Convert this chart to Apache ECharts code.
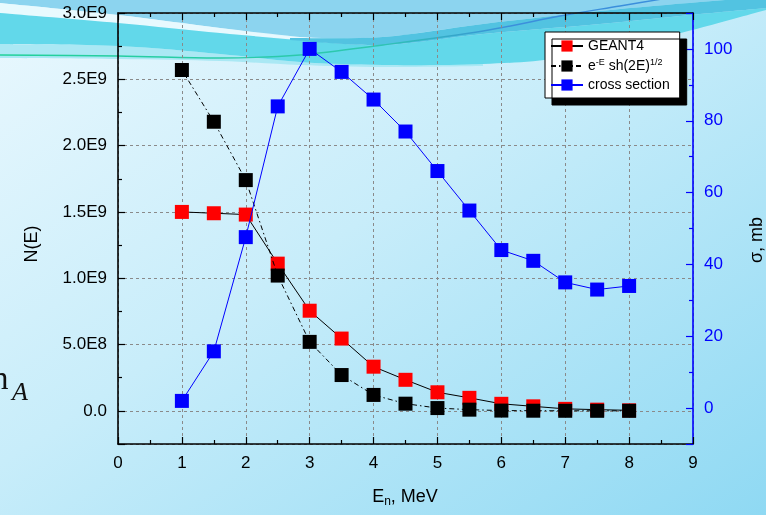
<!DOCTYPE html>
<html>
<head>
<meta charset="utf-8">
<script src="https://cdn.jsdelivr.net/npm/echarts@6/dist/echarts.min.js"></script>
<style>
  html, body { margin: 0; padding: 0; }
  #wrap { position: relative; width: 766px; height: 515px; overflow: hidden; }
  #bg { position: absolute; left: 0; top: 0; }
  #chart { position: absolute; left: 0; top: 0; width: 766px; height: 515px; }
</style>
</head>
<body>
<div id="wrap">
  <svg id="bg" width="766" height="515" viewBox="0 0 766 515">
    <defs>
      <linearGradient id="base" x1="0" y1="0" x2="1" y2="1">
        <stop offset="0" stop-color="#eaf8fe"/>
        <stop offset="0.45" stop-color="#c8edfa"/>
        <stop offset="1" stop-color="#8fd9f3"/>
      </linearGradient>
      <linearGradient id="glow" x1="0" y1="0" x2="1" y2="0">
        <stop offset="0" stop-color="#21d29a"/>
        <stop offset="0.55" stop-color="#2ec7b0"/>
        <stop offset="0.75" stop-color="#3b8fdc"/>
        <stop offset="1" stop-color="#3b8fdc"/>
      </linearGradient>
    </defs>
    <rect x="0" y="0" width="766" height="515" fill="url(#base)"/>
    <path id="sky" fill="#8cd4ef"/>
    <path id="streak" fill="#e8f9fe" opacity="0.9"/>
    <path id="fringe" fill="#aae8f4"/>
    <path id="cyan" fill="#62d8ea"/>
    <path id="ribbon" fill="#52c3e1"/>
    <path id="glowline" fill="none" stroke="url(#glow)" stroke-width="1.4"/>
  </svg>
  <div id="chart"></div>
</div>
<script>
// Neutron energy grid, MeV
const energies = [1, 1.5, 2, 2.5, 3, 3.5, 4, 4.5, 5, 5.5, 6, 6.5, 7, 7.5, 8];
// N(E) from the GEANT4 simulation
const geant4 = [1.50e9, 1.49e9, 1.48e9, 1.11e9, 0.755e9, 0.545e9, 0.333e9, 0.234e9, 0.14e9, 0.098e9, 0.053e9, 0.034e9, 0.015e9, 0.009e9, 0.004e9];
// N(E) from the e^-E sh(2E)^1/2 spectrum
const spectrum = [2.57e9, 2.18e9, 1.74e9, 1.02e9, 0.52e9, 0.27e9, 0.12e9, 0.054e9, 0.021e9, 0.009e9, 0.002e9, 0.001e9, 0.0005e9, 0.0003e9, 0.0002e9];
// Cross section, mb
const crossSection = [2, 15.8, 47.6, 84, 100, 93.6, 85.9, 77, 66, 55, 44, 41, 35, 33, 34];

const xTicks = [0, 1, 2, 3, 4, 5, 6, 7, 8, 9];
const seriesNames = ['GEANT4', 'e^-E sh(2E)^1/2', 'cross section'];

const FONT = '"Liberation Sans", Arial, sans-serif';

// ---- decorative header swoosh (page backdrop) ----
function smooth(pts, move) {
  // Catmull-Rom through pts, emitted as cubic Bezier segments
  let d = (move ? 'M' : 'L') + pts[0][0] + ',' + pts[0][1];
  for (let i = 0; i < pts.length - 1; i++) {
    const p0 = pts[Math.max(i - 1, 0)], p1 = pts[i], p2 = pts[i + 1], p3 = pts[Math.min(i + 2, pts.length - 1)];
    const c1 = [p1[0] + (p2[0] - p0[0]) / 6, p1[1] + (p2[1] - p0[1]) / 6];
    const c2 = [p2[0] - (p3[0] - p1[0]) / 6, p2[1] - (p3[1] - p1[1]) / 6];
    d += ' C' + c1.join(',') + ' ' + c2.join(',') + ' ' + p2.join(',');
  }
  return d;
}
const rev = a => a.slice().reverse();
const skyEdge = [[0, 3], [118, 15], [220, 28], [300, 37], [383, 37], [483, 24], [600, 11], [700, 2], [766, -3]];
const bandTop = [[0, 13], [118, 23], [220, 33], [300, 40], [383, 45], [483, 34], [600, 24], [700, 14], [766, 8]];
const bandBottom = [[0, 44], [118, 46], [220, 54], [300, 62], [383, 65], [483, 64], [560, 58], [650, 40], [700, 28], [766, 10]];
const fringeBottom = [[0, 58], [118, 59], [220, 61], [300, 65], [383, 67], [483, 66]];
const ribbonTop = [[290, 38], [383, 37], [483, 24], [600, 11], [700, 2], [766, -3]];
const ribbonBottom = [[290, 40], [383, 45], [483, 34], [600, 24], [700, 14], [766, 8]];
const glowPts = [[0, 55], [118, 56], [220, 58], [300, 55], [383, 45], [483, 31], [560, 16], [620, 6], [680, -4]];

document.getElementById('sky').setAttribute('d', 'M0,-5 L766,-5 L766,-3 ' + smooth(rev(skyEdge), false) + ' Z');
document.getElementById('streak').setAttribute('d', smooth(skyEdge.slice(0, 4), true) + ' L340,40 ' + smooth(rev(bandTop.slice(0, 4)), false) + ' Z');
document.getElementById('fringe').setAttribute('d', smooth(bandBottom.slice(0, 6), true) + ' ' + smooth(rev(fringeBottom), false) + ' Z');
document.getElementById('cyan').setAttribute('d', smooth(bandTop, true) + ' ' + smooth(rev(bandBottom), false) + ' Z');
document.getElementById('ribbon').setAttribute('d', smooth(ribbonTop, true) + ' ' + smooth(rev(ribbonBottom), false) + ' Z');
document.getElementById('glowline').setAttribute('d', smooth(glowPts, true));

// ---- chart ----
function sci(v) {
  if (v === 0) return '0.0';
  const e = Math.floor(Math.log10(Math.abs(v)) + 1e-9);
  const m = v / Math.pow(10, e);
  return m.toFixed(1) + 'E' + e;
}

const pairs = arr => energies.map((x, i) => [x, arr[i]]);

const chart = echarts.init(document.getElementById('chart'), null, { renderer: 'canvas' });

const inTick = (len, color) => ({ show: true, inside: true, length: len, lineStyle: { color: color, width: 1.2 } });
const inMinor = (color) => ({ show: true, splitNumber: 2, length: 4, lineStyle: { color: color, width: 1.2 } });

chart.setOption({
  backgroundColor: 'transparent',
  animation: false,
  textStyle: { fontFamily: FONT },
  grid: { left: 118, right: 73, top: 13, bottom: 71, containLabel: false },
  legend: {
    data: seriesNames,
    orient: 'vertical',
    left: 545,
    top: 32,
    padding: [7, 10, 6, 5],
    itemGap: 5,
    itemWidth: 32,
    itemHeight: 14,
    backgroundColor: '#ffffff',
    borderColor: '#000000',
    borderWidth: 1,
    borderRadius: 0,
    shadowColor: '#000000',
    shadowBlur: 0,
    shadowOffsetX: 7,
    shadowOffsetY: 7,
    textStyle: {
      fontFamily: FONT,
      fontSize: 14,
      color: '#000',
      rich: {
        sup: { fontSize: 9, verticalAlign: 'top', padding: [0, 0, 7, 0], fontFamily: FONT, color: '#000' }
      }
    },
    formatter: function (name) {
      if (name === seriesNames[1]) return 'e{sup|-E} sh(2E){sup|1/2}';
      return name;
    }
  },
  xAxis: [
    {
      type: 'value', min: 0, max: 9, interval: 1,
      axisLine: { onZero: false, lineStyle: { color: '#000', width: 1.6 } },
      axisTick: inTick(7, '#000'),
      minorTick: inMinor('#000'),
      axisLabel: { fontSize: 17, color: '#000', margin: 11, fontFamily: FONT,
        formatter: v => (xTicks.indexOf(v) >= 0 ? String(v) : '') },
      splitLine: { show: true, lineStyle: { color: '#8a8a8a', type: [3, 3], width: 1 } }
    },
    {
      type: 'value', min: 0, max: 9, interval: 1, position: 'top',
      axisLine: { onZero: false, lineStyle: { color: '#000', width: 1.6 } },
      axisTick: inTick(7, '#000'),
      minorTick: inMinor('#000'),
      axisLabel: { show: false },
      splitLine: { show: false }
    }
  ],
  yAxis: [
    {
      type: 'value', min: -2.5e8, max: 3e9, splitNumber: 6,
      axisLine: { show: true, onZero: false, lineStyle: { color: '#000', width: 1.6 } },
      axisTick: inTick(7, '#000'),
      minorTick: inMinor('#000'),
      axisLabel: { fontSize: 17, color: '#000', margin: 11, fontFamily: FONT, showMinLabel: false, formatter: sci },
      splitLine: { show: true, lineStyle: { color: '#8a8a8a', type: [3, 3], width: 1 } }
    },
    {
      type: 'value', min: -10, max: 110, splitNumber: 6, position: 'right',
      axisLine: { show: true, onZero: false, lineStyle: { color: '#0000ff', width: 1.6 } },
      axisTick: inTick(7, '#0000ff'),
      minorTick: inMinor('#0000ff'),
      axisLabel: { fontSize: 17, color: '#0000ff', margin: 11, fontFamily: FONT, showMinLabel: false, showMaxLabel: false },
      splitLine: { show: false }
    }
  ],
  series: [
    {
      name: seriesNames[0], type: 'line', xAxisIndex: 0, yAxisIndex: 0,
      data: pairs(geant4),
      symbol: 'rect', symbolSize: 14,
      itemStyle: { color: '#ff0000' },
      lineStyle: { color: '#000', width: 1 },
      z: 3
    },
    {
      name: seriesNames[1], type: 'line', xAxisIndex: 0, yAxisIndex: 0,
      data: pairs(spectrum),
      symbol: 'rect', symbolSize: 14,
      itemStyle: { color: '#000000' },
      lineStyle: { color: '#000', width: 1, type: [5, 3, 1.5, 3] },
      z: 4
    },
    {
      name: seriesNames[2], type: 'line', xAxisIndex: 0, yAxisIndex: 1,
      data: pairs(crossSection),
      symbol: 'rect', symbolSize: 14,
      itemStyle: { color: '#0000ff' },
      lineStyle: { color: '#0000ff', width: 1 },
      z: 5
    }
  ],
  graphic: [
    { type: 'text', x: 32, y: 244, rotation: Math.PI / 2,
      style: { text: 'N(E)', font: '18px ' + FONT, fill: '#000', align: 'center', verticalAlign: 'middle' } },
    { type: 'text', x: 757, y: 240, rotation: Math.PI / 2,
      style: { text: 'σ, mb', font: '18px ' + FONT, fill: '#000', align: 'center', verticalAlign: 'middle' } },
    { type: 'text', x: 405, y: 497,
      style: { text: 'E{sub|n}, MeV', font: '18px ' + FONT, fill: '#000', align: 'center', verticalAlign: 'middle',
        rich: { sub: { fontSize: 12, padding: [10, 0, 0, 0], fontFamily: FONT } } } },
    { type: 'text', x: -8, y: 397,
      style: { text: 'n', font: '33px "Liberation Serif", "DejaVu Serif", serif', fill: '#111', align: 'left', verticalAlign: 'bottom' } },
    { type: 'text', x: 12, y: 406,
      style: { text: 'A', font: 'italic 26px "Liberation Serif", "DejaVu Serif", serif', fill: '#111', align: 'left', verticalAlign: 'bottom' } }
  ]
});
</script>
</body>
</html>
